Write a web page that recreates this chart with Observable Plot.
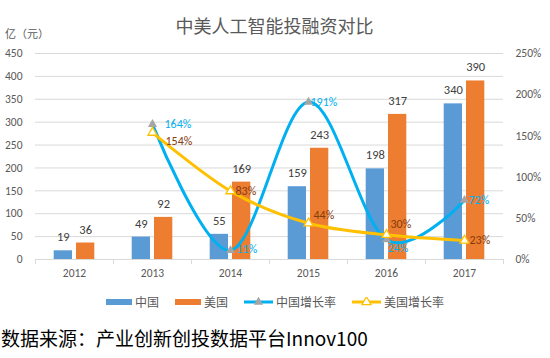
<!DOCTYPE html>
<html><head><meta charset="utf-8">
<script src="https://cdn.jsdelivr.net/npm/d3@7"></script>
<script src="https://cdn.jsdelivr.net/npm/@observablehq/plot@0.6"></script>
<style>
body{margin:0;background:#fff;font-family:"Noto Sans CJK SC",sans-serif;}
#wrap{position:relative;width:550px;height:358px;overflow:hidden;background:#fff;}
#title{position:absolute;left:0;top:11px;width:549px;text-align:center;font-size:18px;color:#595959;line-height:28px;}
#unit{position:absolute;left:5px;top:24px;font-size:11px;color:#595959;line-height:18px;}
#chart{position:absolute;left:0;top:44px;}
#legend{position:absolute;left:0;top:292px;width:550px;height:20px;display:flex;justify-content:center;align-items:center;font-size:12px;color:#595959;}
.item{display:flex;align-items:center;margin:0 8px;}
.item span{margin-left:3px;line-height:20px;}
.rect{width:26px;height:6px;}
#caption{position:absolute;left:1px;top:324px;font-size:19px;color:#000;line-height:28px;white-space:nowrap;}
</style>
</head><body>
<div id="wrap">
  <div id="title">中美人工智能投融资对比</div>
  <div id="unit">亿（元）</div>
  <div id="chart"></div>
  <div id="legend"></div>
  <div id="caption">数据来源：产业创新创投数据平台Innov100</div>
</div>
<script>
const years = ["2012", "2013", "2014", "2015", "2016", "2017"];
const china = [19, 49, 55, 159, 198, 340];
const usa = [36, 92, 169, 243, 317, 390];
const chinaGrowth = [null, 164, 11, 191, 24, 72];
const usaGrowth = [null, 154, 83, 44, 30, 23];
const leftTicks = [0, 50, 100, 150, 200, 250, 300, 350, 400, 450];
const rightTicks = [0, 50, 100, 150, 200, 250];
const seriesNames = ["中国", "美国", "中国增长率", "美国增长率"];

const C_CN = "#5B9BD5", C_US = "#ED7D31", C_CNL = "#00B0F0", C_USL = "#FFC000";
const k = 450 / 250; // percent -> left-axis units

const rows = years.map((y, i) => ({year: y, cn: china[i], us: usa[i], cg: chinaGrowth[i], ug: usaGrowth[i]}));
const cnRows = rows.filter(d => d.cg != null);
const usRows = rows.filter(d => d.ug != null);

const numFont = "Carlito, 'Liberation Sans', Arial, sans-serif";

function cnLabel(year, dx, dy) {
  return Plot.text(cnRows.filter(d => d.year === year), {
    x: "year", y: d => d.cg * k, text: d => d.cg + "%", dx, dy,
    textAnchor: "start", fill: C_CNL, fontSize: 12, fontFamily: numFont
  });
}
function usLabel(year, dx, dy) {
  return Plot.text(usRows.filter(d => d.year === year), {
    x: "year", y: d => d.ug * k, text: d => d.ug + "%", dx, dy,
    textAnchor: "start", fill: "#843C0C", fontSize: 12, fontFamily: numFont
  });
}

const chart = Plot.plot({
  width: 550, height: 240,
  marginTop: 9, marginBottom: 25, marginLeft: 35, marginRight: 47,
  style: {fontFamily: numFont, fontSize: "11.5px", color: "#595959", background: "transparent"},
  x: {type: "band", domain: years, padding: 0, axis: null},
  y: {domain: [0, 450], axis: null},
  marks: [
    Plot.gridY(leftTicks, {stroke: "#D9D9D9", strokeOpacity: 1}),
    Plot.ruleX(years, {x: d => d, dx: -39, y1: 0, y2: 0, insetBottom: -5, stroke: "#D9D9D9"}),
    Plot.ruleX(years.slice(-1), {x: d => d, dx: 39, y1: 0, y2: 0, insetBottom: -5, stroke: "#D9D9D9"}),
    Plot.axisY({anchor: "left", ticks: leftTicks, tickSize: 0, tickPadding: 13, label: null, fill: "#595959", fontSize: 11.5}),
    Plot.axisY({anchor: "right", ticks: rightTicks.map(p => p * k), tickFormat: v => Math.round(v / k) + "%", tickSize: 0, tickPadding: 12, label: null, fill: "#595959", fontSize: 11.5}),
    Plot.axisX({ticks: years, tickSize: 0, tickPadding: 9, label: null, fill: "#595959", fontSize: 11.5}),
    Plot.barY(rows, {x: "year", y: "cn", fill: C_CN, insetLeft: 18.7, insetRight: 41}),
    Plot.barY(rows, {x: "year", y: "us", fill: C_US, insetLeft: 41, insetRight: 18.7}),
    Plot.text(rows, {x: "year", y: "cn", text: d => String(d.cn), dx: -11.2, dy: -13.5, fill: "#404040", fontSize: 12.5}),
    Plot.text(rows, {x: "year", y: "us", text: d => String(d.us), dx: 11.2, dy: -13.5, fill: "#404040", fontSize: 12.5}),
    Plot.line(cnRows, {x: "year", y: d => d.cg * k, stroke: C_CNL, strokeWidth: 3, curve: "cardinal"}),
    Plot.dot(cnRows, {x: "year", y: d => d.cg * k, symbol: "triangle", r: 3.4, fill: "#A5A5A5", stroke: "none"}),
    Plot.line(usRows, {x: "year", y: d => d.ug * k, stroke: C_USL, strokeWidth: 3, curve: "cardinal"}),
    Plot.dot(usRows, {x: "year", y: d => d.ug * k, symbol: "triangle", r: 3.4, fill: "#FFFFFF", stroke: C_USL, strokeWidth: 1.3}),
    cnLabel("2013", 12, 0), cnLabel("2014", 6, -1), cnLabel("2015", 2, 0), cnLabel("2016", 1, 8), cnLabel("2017", 4, 0),
    usLabel("2013", 13, 9), usLabel("2014", 5, 0), usLabel("2015", 5, -8), usLabel("2016", 4, -11), usLabel("2017", 5, 0)
  ]
});
document.getElementById("chart").appendChild(chart);

// Legend
const legend = document.getElementById("legend");
function rectItem(color, name) {
  const it = document.createElement("div"); it.className = "item";
  const r = document.createElement("div"); r.className = "rect"; r.style.background = color;
  const s = document.createElement("span"); s.textContent = name;
  it.append(r, s); return it;
}
function lineItem(color, fill, stroke, name) {
  const it = document.createElement("div"); it.className = "item";
  const svg = d3.create("svg").attr("width", 29).attr("height", 10);
  svg.append("line").attr("x1", 0).attr("x2", 29).attr("y1", 5).attr("y2", 5).attr("stroke", color).attr("stroke-width", 3);
  svg.append("path").attr("d", d3.symbol(d3.symbolTriangle, 3.4 * 3.4 * Math.PI)()).attr("transform", "translate(14.5,5)")
    .attr("fill", fill).attr("stroke", stroke).attr("stroke-width", 1.2);
  const s = document.createElement("span"); s.textContent = name;
  it.append(svg.node(), s); return it;
}
legend.append(
  rectItem(C_CN, seriesNames[0]),
  rectItem(C_US, seriesNames[1]),
  lineItem(C_CNL, "#A5A5A5", "none", seriesNames[2]),
  lineItem(C_USL, "#FFFFFF", C_USL, seriesNames[3])
);
</script>
</body></html>
